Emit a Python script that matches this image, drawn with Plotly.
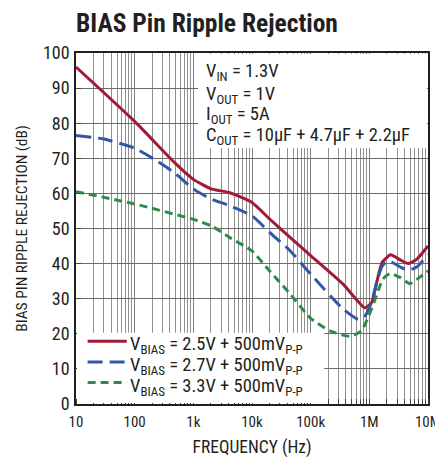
import plotly.graph_objects as go

# ---- data ----
freq_red = [10, 100, 470, 1000, 2000, 4200, 10000, 20000, 45000, 100000,
            360000, 840000, 1100000, 1350000, 1650000, 2300000, 3400000, 4600000, 6400000, 10000000]
rej_red = [96.0, 80.5, 68.9, 64.0, 61.3, 60.2, 57.4, 52.7, 47.4, 42.3,
           34.1, 27.4, 29.0, 35.0, 40.3, 42.5, 41.0, 40.0, 41.2, 45.0]

freq_blue = [10, 30, 66, 100, 213, 467, 1000, 2000, 4200, 10000, 20000, 45000, 100000,
             360000, 650000, 840000, 1100000, 1350000, 1650000, 2100000, 3400000, 4600000, 6400000, 10000000]
rej_blue = [76.5, 75.5, 73.9, 72.9, 69.8, 66.0, 61.3, 58.4, 56.5, 53.6, 48.9, 43.6, 37.0,
            27.0, 24.1, 25.0, 29.2, 35.0, 39.3, 40.8, 39.0, 38.1, 39.0, 42.5]

freq_green = [10, 100, 1000, 2000, 4200, 10000, 20000, 45000, 100000, 214000, 470000,
              730000, 1030000, 1350000, 1700000, 2270000, 3400000, 4900000, 7200000, 10000000]
rej_green = [60.5, 57.0, 52.6, 50.8, 47.4, 43.6, 37.9, 31.3, 24.4, 20.8, 19.3,
             20.8, 26.0, 31.3, 35.6, 37.2, 36.0, 34.3, 36.1, 37.9]

series_names = ["V<sub>BIAS</sub> = 2.5V + 500mV<sub>P-P</sub>",
                "V<sub>BIAS</sub> = 2.7V + 500mV<sub>P-P</sub>",
                "V<sub>BIAS</sub> = 3.3V + 500mV<sub>P-P</sub>"]
series_colors = ["#A11A36", "#3357A8", "#2E8B4A"]
series_dash = ["solid", "15px,7px", "8px,5px"]

x_tickvals = [10, 100, 1000, 10000, 100000, 1000000, 10000000]
x_ticktext = ["10", "100", "1k", "10k", "100k", "1M", "10M"]
y_tickvals = [0, 10, 20, 30, 40, 50, 60, 70, 80, 90, 100]

cond_lines = ["V<sub>IN</sub> = 1.3V",
              "V<sub>OUT</sub> = 1V",
              "I<sub>OUT</sub> = 5A",
              "C<sub>OUT</sub> = 10µF + 4.7µF + 2.2µF"]

FONT = "Liberation Sans Narrow, Arial Narrow, Roboto Condensed, Liberation Sans, sans-serif"
INK = "#231f20"

fig = go.Figure()
for fx, fy, nm, col, dsh in zip([freq_red, freq_blue, freq_green],
                                [rej_red, rej_blue, rej_green],
                                series_names, series_colors, series_dash):
    fig.add_trace(go.Scatter(x=fx, y=fy, mode="lines", name=nm, showlegend=False,
                             line=dict(color=col, width=3, shape="spline", smoothing=0.5,
                                       dash=dsh)))

# white box behind condition text
fig.add_shape(type="rect", xref="paper", yref="paper", x0=0.347, x1=0.997, y0=0.729, y1=0.997,
              fillcolor="white", line=dict(width=0), layer="above")

ys = [0.946, 0.880, 0.823, 0.764]
for t, yy in zip(cond_lines, ys):
    fig.add_annotation(text=t, xref="paper", yref="paper", x=0.364, y=yy,
                       xanchor="left", yanchor="middle", showarrow=False,
                       font=dict(size=18.5, color=INK, family=FONT))

# legend box (drawn by hand to match spacing)
fig.add_shape(type="rect", xref="paper", yref="paper", x0=0.003, x1=0.705, y0=0.003, y1=0.203,
              fillcolor="white", line=dict(width=0), layer="above")
leg_rows = [0.179, 0.120, 0.061]
for nm, col, dsh, yy in zip(series_names, series_colors, series_dash, leg_rows):
    fig.add_shape(type="line", xref="paper", yref="paper", x0=0.033, x1=0.144, y0=yy, y1=yy,
                  line=dict(color=col, width=3, dash=dsh), layer="above")
    fig.add_annotation(text=nm, xref="paper", yref="paper", x=0.148, y=yy - 0.012,
                       xanchor="left", yanchor="middle", showarrow=False,
                       font=dict(size=18.5, color=INK, family=FONT))

# page body has an 8px margin, so the figure is 8px smaller and everything is offset
fig.update_layout(
    width=435, height=461,
    margin=dict(l=68, r=15, t=45, b=65, autoexpand=False),
    paper_bgcolor="white", plot_bgcolor="white",
    font=dict(family=FONT, color=INK, size=16),
    title=dict(text="<b>BIAS Pin Ripple Rejection</b>", x=68/435, xanchor="left",
               y=1 - 15/461, yanchor="middle", font=dict(size=25.5, family=FONT, color=INK)),
    showlegend=False,
)

fig.update_xaxes(type="log", range=[1, 7], tickvals=x_tickvals, ticktext=x_ticktext,
                 showgrid=True, gridcolor="#808080", gridwidth=1,
                 showline=True, linecolor=INK, linewidth=1.5, mirror=True,
                 ticks="", tickfont=dict(size=15), ticklabelstandoff=3, automargin=False,
                 ticklabeloverflow="allow",
                 minor=dict(showgrid=True, gridcolor="#909090", gridwidth=1, dtick="D1",
                            ticks="inside", ticklen=5, tickcolor="#444"),
                 title=dict(text="FREQUENCY (Hz)", font=dict(size=17.5), standoff=11))
fig.update_yaxes(range=[0, 100], tickvals=y_tickvals,
                 showgrid=True, gridcolor="#6a6a6a", gridwidth=1,
                 showline=True, linecolor=INK, linewidth=1.5, mirror=True,
                 ticks="inside", ticklen=5, tickcolor="#444", tickfont=dict(size=18),
                 ticklabelstandoff=1, zeroline=False, automargin=False,
                 title=dict(text="BIAS PIN RIPPLE REJECTION (dB)", font=dict(size=15.5), standoff=12))

fig.write_html("out.html")
